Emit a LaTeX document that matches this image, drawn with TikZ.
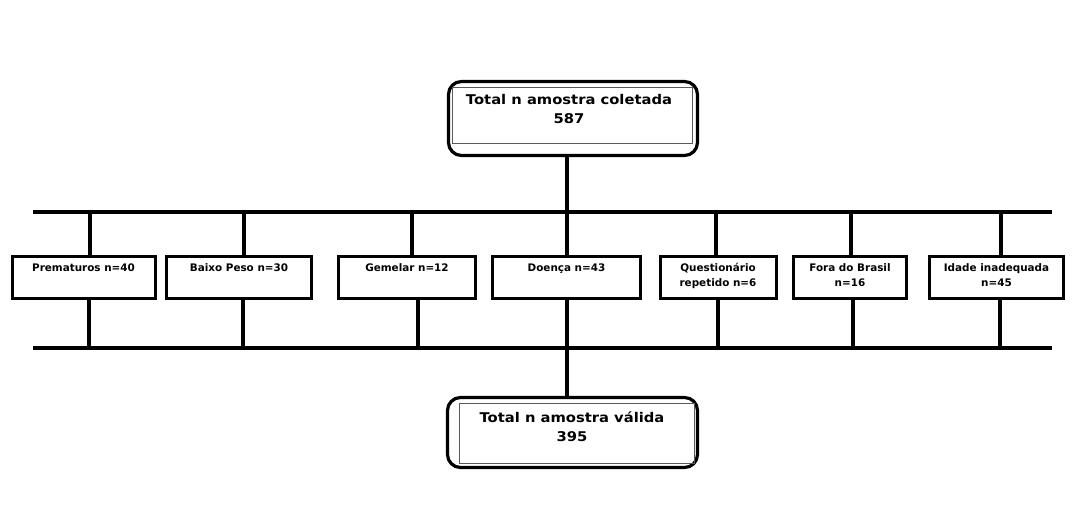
\documentclass[tikz,border=0pt]{standalone}
\usepackage{fontspec}
\setmainfont{DejaVu Sans}
\newfontfamily\bigfam[FakeStretch=1.1]{DejaVu Sans}
\begin{document}
\begin{tikzpicture}[x=1pt,y=-1pt,
  conn/.style={line width=3.2pt},
  exclbox/.style={draw, line width=3.2pt, minimum height=42pt, inner sep=0pt},
  outerbox/.style={draw, line width=3.2pt, rounded corners=13pt, inner sep=0pt},
  innerbox/.style={draw, line width=0.9pt, black!65, inner sep=0pt},
  smalltxt/.style={font=\fontsize{10.4}{14.5}\selectfont\bfseries, align=center, inner sep=0pt, anchor=base},
  bigtxt/.style={font=\bigfam\fontsize{13.4}{19.5}\selectfont\bfseries, align=center, inner sep=0pt, anchor=base}]
\useasboundingbox (0,0) rectangle (1079,510);
\fill[white] (0,0) rectangle (1079,510);

% top box
\node[outerbox, minimum width=249pt, minimum height=74pt] (top) at (573,118.5) {};
\node[innerbox, minimum width=240pt, minimum height=56pt] (topin) at (572,115) {};
\node[bigtxt] (toptxt) at (569,124) {Total n amostra coletada\\587};

% bottom box
\node[outerbox, minimum width=250pt, minimum height=70pt] (bot) at (572.5,432.5) {};
\node[innerbox, minimum width=235pt, minimum height=60pt] (botin) at (576.5,433) {};
\node[bigtxt] (bottxt) at (572,441.5) {Total n amostra válida\\395};

% exclusion boxes
\node[exclbox, minimum width=143pt] (pre) at (84,277.5) {};
\node[exclbox, minimum width=145pt] (bai) at (239,277.5) {};
\node[exclbox, minimum width=137pt] (gem) at (407,277.5) {};
\node[exclbox, minimum width=148pt] (doe) at (566.5,277.5) {};
\node[exclbox, minimum width=116pt] (que) at (718.5,277.5) {};
\node[exclbox, minimum width=113pt] (fora) at (850,277.5) {};
\node[exclbox, minimum width=134pt] (ida) at (996.5,277.5) {};

\node[smalltxt] (pret) at (83.5,272) {Prematuros n=40};
\node[smalltxt] (bait) at (239,272) {Baixo Peso n=30};
\node[smalltxt] (gemt) at (407,272) {Gemelar n=12};
\node[smalltxt] (doet) at (566.5,272) {Doença n=43};
\node[smalltxt] (quet) at (718,286.5) {Questionário\\repetido n=6};
\node[smalltxt] (forat) at (850,286.5) {Fora do Brasil\\n=16};
\node[smalltxt] (idat) at (996.5,286.5) {Idade inadequada\\n=45};

% bus lines
\coordinate (b1L) at (33,212);
\coordinate (b1R) at (1052,212);
\coordinate (b2L) at (33,348);
\coordinate (b2R) at (1052,348);
\draw[conn] (b1L) -- (b1R);
\draw[conn] (b2L) -- (b2R);

% stems
\coordinate (s1) at (567,212);
\coordinate (s2) at (567,348);
\draw[conn] (s1 |- top.south) -- (s1);
\draw[conn] (s2) -- (s2 |- bot.north);

% drops from top bus
\foreach \n/\x in {pre/90,bai/244,gem/412,doe/567,que/716,fora/851,ida/1001}{
  \coordinate (d\n) at (\x,212);
  \draw[conn] (d\n) -- (d\n |- \n.north);
}
% drops to bottom bus
\foreach \n/\x in {pre/89,bai/243,gem/418,doe/567,que/718,fora/853,ida/1000}{
  \coordinate (u\n) at (\x,348);
  \draw[conn] (u\n |- \n.south) -- (u\n);
}
\end{tikzpicture}
\end{document}
